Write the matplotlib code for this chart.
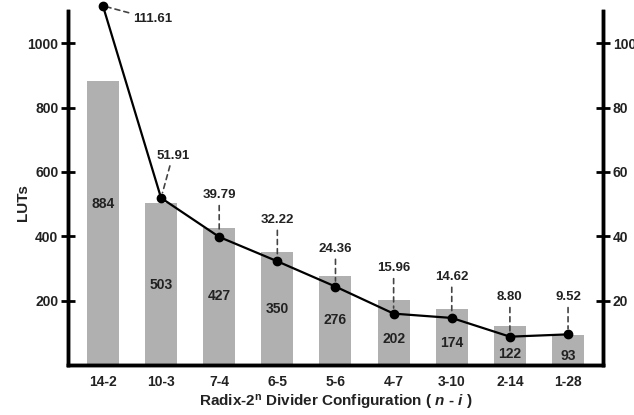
"""LUTs and line metric for each radix-2^n divider configuration."""

import matplotlib
matplotlib.use('Agg')
import matplotlib.pyplot as plt

plt.rcParams['font.family'] = 'Liberation Sans'
plt.rcParams['font.weight'] = 'bold'
plt.rcParams['mathtext.fontset'] = 'custom'
plt.rcParams['mathtext.rm'] = 'Liberation Sans:bold'
plt.rcParams['mathtext.it'] = 'Liberation Sans:bold:italic'

# data
configs = ['14-2', '10-3', '7-4', '6-5', '5-6', '4-7', '3-10', '2-14', '1-28']
luts = [884, 503, 427, 350, 276, 202, 174, 122, 93]
line_vals = [111.61, 51.91, 39.79, 32.22, 24.36, 15.96, 14.62, 8.80, 9.52]

# where the number inside each bar sits (LUT units) and where the line labels go
bar_label_y = [499, 248, 214, 174, 140, 81, 68, 34, 28]
line_label_pos = [(0.85, 107.5), (1.2, 65), (2.0, 52.7), (3.0, 45), (4.0, 36),
                  (5.0, 30), (6.0, 27.3), (7.0, 21), (8.0, 21)]

ink = '#222222'
x = list(range(len(configs)))

fig = plt.figure(figsize=(6.34, 4.15), dpi=100)
ax = fig.add_axes([0.1073, 0.1205, 0.8437, 0.853])
ax2 = ax.twinx()

ax.bar(x, luts, width=0.55, color='#b0b0b0', zorder=2)
for xi, v, ly in zip(x, luts, bar_label_y):
    ax.text(xi, ly, str(v), ha='center', va='center', fontsize=10,
            fontweight='bold', color=ink, zorder=3)

ax.set_xlim(-0.6, 8.6)
ax.set_ylim(0, 1100)
ax.set_yticks([200, 400, 600, 800, 1000])
ax.set_xticks(x)
ax.set_xticklabels(configs)
ax.set_ylabel('LUTs', fontsize=11, fontweight='bold', color=ink)
ax.yaxis.set_label_coords(-0.071, 0.458)
ax.set_xlabel(r'Radix-2$^{\mathrm{n}}$ Divider Configuration ( $n$ - $i$ )',
              fontsize=11, fontweight='bold', color=ink, labelpad=3)

ax2.set_ylim(0, 110)
ax2.set_yticks([20, 40, 60, 80, 100])
ax2.plot(x, line_vals, color='black', lw=1.6, marker='o', markersize=6,
         clip_on=False, zorder=4)
for xi, v, (tx, ty) in zip(x, line_vals, line_label_pos):
    ax2.annotate(f'{v:.2f}', xy=(xi, v), xytext=(tx, ty), ha='center', va='center',
                 fontsize=9.5, fontweight='bold', color=ink, annotation_clip=False,
                 arrowprops=dict(arrowstyle='-', linestyle=(0, (3, 2.5)),
                                 color='#444444', lw=1.2, shrinkA=1, shrinkB=4))

for a in (ax, ax2):
    a.spines['top'].set_visible(False)
    for side in ('left', 'right', 'bottom'):
        a.spines[side].set_linewidth(2.5)
        a.spines[side].set_color('black')
    a.tick_params(axis='y', direction='inout', length=10, width=2,
                  labelsize=10, labelcolor=ink, pad=2)
    a.tick_params(axis='x', length=0, labelsize=10, labelcolor=ink, pad=7)

ax.set_zorder(1)
ax2.set_zorder(2)
ax2.patch.set_visible(False)

fig.savefig('out.png', dpi=100)
